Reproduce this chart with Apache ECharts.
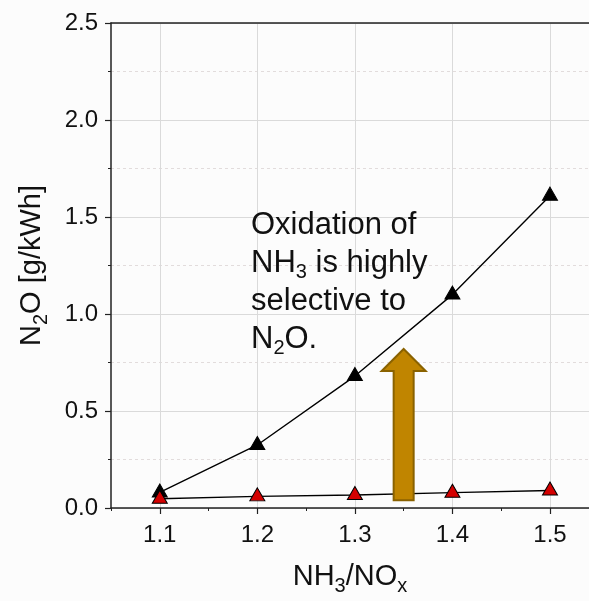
<!DOCTYPE html>
<html>
<head>
<meta charset="utf-8">
<script src="https://cdn.jsdelivr.net/npm/echarts@6/dist/echarts.min.js"></script>
<style>
  html, body { margin: 0; padding: 0; background: #fcfcfc; }
  #chart { width: 589px; height: 601px; }
</style>
</head>
<body>
<div id="chart"></div>
<script>
// NH3/NOx ratio on x
const ratios = [1.1, 1.2, 1.3, 1.4, 1.5]
// N2O emissions, g/kWh
const n2oHigh = [0.08, 0.325, 0.68, 1.10, 1.61]
const n2oLow = [0.048, 0.06, 0.067, 0.079, 0.09]
const majorTicks = [1.1, 1.2, 1.3, 1.4, 1.5]
const minorTicks = [1.05, 1.15, 1.25, 1.35, 1.45]
// arrow: x, from, to
const arrow = [[1.35, 0.04, 0.82]]

const font = 'Liberation Sans, Arial, sans-serif'
const ink = '#111'

const pair = (xs, ys) => xs.map((x, i) => [x, ys[i]])

const chart = echarts.init(document.getElementById('chart'))

const xBase = {
    type: 'value',
    min: 1.05,
    max: 1.54,
    gridIndex: 0
}

const titleRich = {
    a: { fontFamily: font, fontSize: 29, color: ink, lineHeight: 38 },
    s: { fontFamily: font, fontSize: 20, color: ink, lineHeight: 20, verticalAlign: 'bottom' }
}

const option = {
    backgroundColor: '#fcfcfc',
    animation: false,
    grid: {
        left: 111,
        right: 0,
        top: 23,
        bottom: 92,
        containLabel: false
    },
    xAxis: [
        {
            ...xBase,
            position: 'bottom',
            name: '{a|NH}{s|3}{a|/NO}{s|x}',
            nameLocation: 'middle',
            nameGap: 50,
            nameTextStyle: { rich: titleRich },
            axisLine: { show: true, lineStyle: { color: '#222', width: 1.5 } },
            axisTick: { show: true, length: 6, inside: false, customValues: majorTicks, lineStyle: { color: '#222', width: 1.2 } },
            axisLabel: {
                customValues: majorTicks,
                margin: 15,
                fontFamily: font,
                fontSize: 24,
                color: ink,
                formatter: v => v.toFixed(1)
            },
            splitLine: { show: true, lineStyle: { color: '#dadada', width: 1 } }
        },
        {
            ...xBase,
            position: 'bottom',
            axisLine: { show: false },
            axisTick: { show: true, length: 3, customValues: minorTicks, lineStyle: { color: '#222', width: 1 } },
            axisLabel: { show: false },
            splitLine: { show: false }
        },
        {
            ...xBase,
            position: 'top',
            axisLine: { show: true, lineStyle: { color: '#222', width: 1.5 } },
            axisTick: { show: false },
            axisLabel: { show: false },
            splitLine: { show: false }
        }
    ],
    yAxis: {
        type: 'value',
        min: 0,
        max: 2.5,
        interval: 0.5,
        name: '{a|N}{s|2}{a|O [g/kWh]}',
        nameLocation: 'middle',
        nameRotate: 90,
        nameGap: 60,
        nameTextStyle: { rich: titleRich },
        axisLine: { show: true, lineStyle: { color: '#222', width: 1.5 } },
        axisTick: { show: true, length: 6, lineStyle: { color: '#222', width: 1.2 } },
        minorTick: { show: true, splitNumber: 2, length: 3, lineStyle: { color: '#222', width: 1 } },
        axisLabel: {
            margin: 13,
            fontFamily: font,
            fontSize: 24,
            color: ink,
            formatter: v => v.toFixed(1)
        },
        splitLine: { show: true, lineStyle: { color: '#dadada', width: 1 } },
        minorSplitLine: { show: true, lineStyle: { color: '#e2dcdc', width: 1, type: [3, 3] } }
    },
    graphic: [
        {
            type: 'text',
            left: 251,
            top: 210,
            z: 10,
            style: {
                text: '{a|Oxidation of}\n{a|NH}{s|3}{a| is highly}\n{a|selective to}\n{a|N}{s|2}{a|O.}',
                rich: {
                    a: { fontFamily: font, fontSize: 31, fill: ink, lineHeight: 38 },
                    s: { fontFamily: font, fontSize: 20, fill: ink, lineHeight: 20, verticalAlign: 'bottom' }
                }
            }
        }
    ],
    series: [
        {
            type: 'line',
            xAxisIndex: 0,
            data: pair(ratios, n2oHigh),
            symbol: 'triangle',
            symbolSize: [15, 13],
            symbolOffset: [0, -2],
            lineStyle: { color: '#000', width: 1.4 },
            itemStyle: { color: '#000', borderColor: '#000', borderWidth: 1 },
            z: 3
        },
        {
            type: 'line',
            xAxisIndex: 0,
            data: pair(ratios, n2oLow),
            symbol: 'triangle',
            symbolSize: [15, 13],
            symbolOffset: [0, -2],
            lineStyle: { color: '#000', width: 1.4 },
            itemStyle: { color: '#d40000', borderColor: '#000', borderWidth: 1 },
            z: 4
        },
        {
            type: 'custom',
            xAxisIndex: 0,
            data: arrow,
            z: 6,
            renderItem: (params, api) => {
                const base = api.coord([api.value(0), api.value(1)])
                const tip = api.coord([api.value(0), api.value(2)])
                const x = base[0]
                const shaft = 10
                const head = 22
                const headLen = 22
                const neck = tip[1] + headLen
                return {
                    type: 'polygon',
                    shape: {
                        points: [
                            [x - shaft, base[1]],
                            [x - shaft, neck],
                            [x - head, neck],
                            [x, tip[1]],
                            [x + head, neck],
                            [x + shaft, neck],
                            [x + shaft, base[1]]
                        ]
                    },
                    style: { fill: '#c08500', stroke: '#8a6200', lineWidth: 2 }
                }
            }
        }
    ]
}

chart.setOption(option)
</script>
</body>
</html>
